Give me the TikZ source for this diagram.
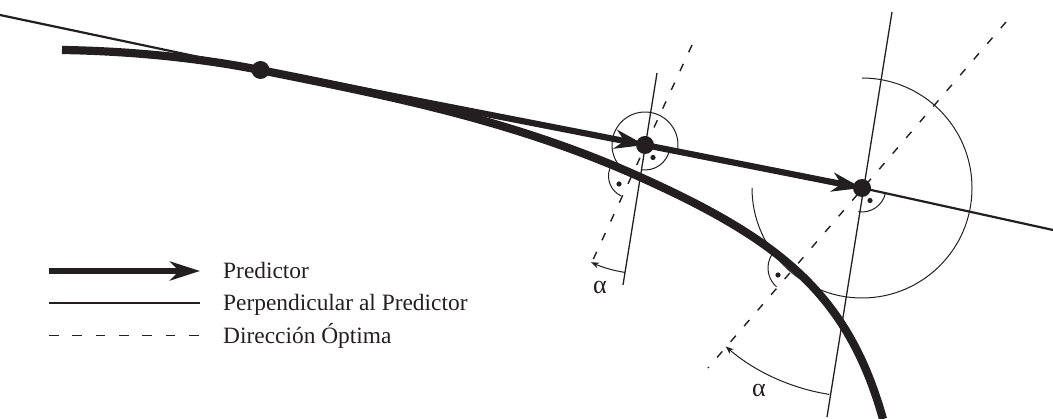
\documentclass[tikz,border=0pt]{standalone}
\usepackage{fontspec}
\setmainfont{Liberation Serif}
\usetikzlibrary{arrows.meta}
\definecolor{ink}{RGB}{35,31,32}
\begin{document}
\begin{tikzpicture}[x=1pt,y=1pt,
  dotnode/.style={circle,fill=ink,draw=none,inner sep=0pt,minimum size=18pt},
  curveline/.style={draw=ink,line width=8.2pt},
  predarrow/.style={draw=ink,line width=6.2pt,-{Stealth[length=30pt,width=19pt,inset=9pt]}},
  tanline/.style={draw=ink,line width=2.2pt},
  perpline/.style={draw=ink,line width=1.3pt},
  optline/.style={draw=ink,line width=1.4pt,dash pattern=on 8pt off 12.7pt},
  legdash/.style={draw=ink,line width=1.4pt,dash pattern=on 9.7pt off 13.6pt},
  anglearc/.style={draw=ink,line width=1pt},
  alphaarc/.style={draw=ink,line width=1pt,-{Stealth[length=8pt,width=6pt]}},
  rdot/.style={fill=ink},
  legtext/.style={inner sep=0pt,anchor=base west,text=ink,font=\fontsize{23.4}{28}\selectfont},
  alphatext/.style={inner sep=0pt,text=ink,font=\fontsize{26}{30}\selectfont}
]
\useasboundingbox (0,0) rectangle (1053,-419);

% points of the predictor
\node[dotnode] (d0) at (260.5,-70) {};
\node[dotnode] (d1) at (645,-145) {};
\node[dotnode] (d2) at (862,-188) {};

% free ends
\coordinate (tl) at (0,-15);
\coordinate (tr) at (1053,-230);
\coordinate (a1) at (657,-73);  \coordinate (b1) at (623,-285);
\coordinate (a2) at (892,-12);  \coordinate (b2) at (827,-417);
\coordinate (c1) at (692,-45);  \coordinate (e1) at (592,-262);
\coordinate (c2) at (1006,-22); \coordinate (e2) at (708,-368);
\coordinate (f1) at (630.5,-176);
\coordinate (f2) at (793,-268);

% optimal directions (dashed)
\draw[optline] (c1) -- (e1);
\draw[optline] (c2) -- (e2);

% perpendiculars to the predictor
\draw[perpline] (a1) -- (b1);
\draw[perpline] (a2) -- (b2);

% tangent line extensions
\draw[tanline] (tl) -- (d0.center);
\draw[tanline] (d2.center) -- (tr);

% angle arcs
\draw[anglearc] (d1.center) ++(-15:33pt) arc[start angle=-15,end angle=250,radius=33pt];
\draw[anglearc] (d2.center) ++(90:110pt) arc[start angle=90,end angle=-180,radius=110pt];

% alpha arcs
\draw[alphaarc] (d1.center) ++(261:129pt) arc[start angle=261,end angle=245.3,radius=129pt];
\draw[alphaarc] (d2.center) ++(261:209pt) arc[start angle=261,end angle=229.3,radius=209pt];
\node[alphatext] (al1) at (600,-287) {α};
\node[alphatext] (al2) at (759,-390) {α};

% right-angle marks
\draw[anglearc] (d1.center) ++(261:25pt) arc[start angle=261,end angle=349,radius=25pt];
\fill[rdot] (653,-157.5) circle (2.6pt);
\draw[anglearc] (d2.center) ++(261:24pt) arc[start angle=261,end angle=348,radius=24pt];
\fill[rdot] (870,-200.5) circle (2.6pt);
\draw[anglearc] (f1) ++(160:22pt) arc[start angle=160,end angle=245,radius=22pt];
\fill[rdot] (619,-184) circle (2.6pt);
\draw[anglearc] (f2) ++(138:25pt) arc[start angle=138,end angle=229,radius=25pt];
\fill[rdot] (778,-275) circle (2.6pt);

% the curve
\draw[curveline] (62,-50) .. controls (130,-51) and (200,-58) .. (260,-70)
  .. controls (387,-95.4) and (513,-119.9) .. (640,-177)
  .. controls (780,-240) and (848,-294) .. (883,-419);

% predictor arrows
\draw[predarrow] (d0.center) -- (d1.center);
\draw[predarrow] (d1.center) -- (d2.center);

% legend
\coordinate (la) at (49,-271);   \coordinate (lb) at (200,-271);
\coordinate (lc) at (49,-303.3); \coordinate (ld) at (200,-303.3);
\coordinate (le) at (49,-335.7); \coordinate (lf) at (200,-335.7);
\draw[predarrow] (la) -- (lb);
\draw[tanline,line width=1.8pt] (lc) -- (ld);
\draw[legdash] (le) -- (lf);
\node[legtext] (t1) at (223,-278.5) {Predictor};
\node[legtext] (t2) at (223,-311) {Perpendicular al Predictor};
\node[legtext] (t3) at (223,-343.5) {Dirección Óptima};
\end{tikzpicture}
\end{document}
